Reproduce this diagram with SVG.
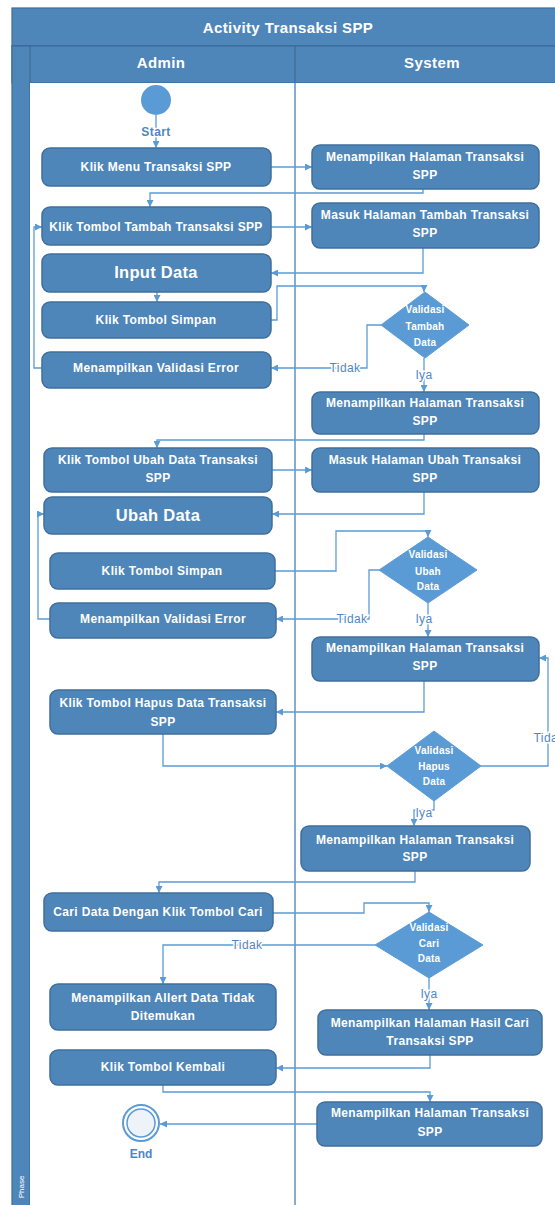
<svg xmlns="http://www.w3.org/2000/svg" width="555" height="1205" viewBox="0 0 555 1205">
<style>
.frame{fill:#4f86b9;stroke:#3d6b98;stroke-width:1.2}
.hd{font-family:"Liberation Sans",Arial,sans-serif;font-weight:bold;fill:#fff;text-anchor:middle;font-size:15px;letter-spacing:0.4px}
.node rect{fill:#4f86b9;stroke:#3f6f9d;stroke-width:1.5}
.node text{font-family:"Liberation Sans",Arial,sans-serif;font-weight:bold;font-size:12px;letter-spacing:0.35px;fill:#fff;text-anchor:middle}
.node text.big{font-size:16.5px;letter-spacing:0.3px}
.dec polygon{fill:#5b9bd5;stroke:#5b9bd5;stroke-width:1}
.dec text{font-family:"Liberation Sans",Arial,sans-serif;font-weight:bold;font-size:10px;letter-spacing:0.2px;fill:#fff;text-anchor:middle}
.conn path{fill:none;stroke:#5b9bd5;stroke-width:1.3}
.cl{font-family:"Liberation Sans",Arial,sans-serif;font-size:12px;letter-spacing:0.4px;fill:#4f86c6;text-anchor:middle;stroke:#fff;stroke-width:3;paint-order:stroke}
</style>
<defs>
<marker id="ah" viewBox="0 0 8 8" refX="8" refY="4" markerWidth="7" markerHeight="7" orient="auto" markerUnits="userSpaceOnUse"><path d="M0,0 L8,4 L0,8 z" fill="#5b9bd5"/></marker>
</defs>
<rect width="555" height="1205" fill="#fff"/>
<g id="pool">
<rect class="frame" x="12" y="8" width="560" height="38"/>
<rect class="frame" x="12" y="46" width="560" height="37"/>
<rect class="frame" x="12" y="46" width="18" height="1170"/>
<rect x="30" y="83" width="530" height="1130" fill="#fff"/>
<line x1="295" y1="46" x2="295" y2="83" stroke="#3d6b98" stroke-width="1.2"/>
<line x1="295" y1="83" x2="295" y2="1205" stroke="#4a7ebb" stroke-width="1.3"/>
<text class="hd" x="288" y="33">Activity Transaksi SPP</text>
<text class="hd" x="161" y="68">Admin</text>
<text class="hd" x="432" y="68">System</text>
<text x="24" y="1187" transform="rotate(-90 24 1187)" font-family="Liberation Sans, Arial, sans-serif" font-size="8" fill="#fff" text-anchor="middle">Phase</text>
</g>
<g id="connectors" class="conn">
<path d="M156,115 V148" marker-end="url(#ah)"/>
<path d="M271,167 H312" marker-end="url(#ah)"/>
<path d="M423,189 V193 H150 V207" marker-end="url(#ah)"/>
<path d="M271,227 H312" marker-end="url(#ah)"/>
<path d="M423,248 V273 H271" marker-end="url(#ah)"/>
<path d="M157,292 V302" marker-end="url(#ah)"/>
<path d="M271,320 H277 V286 H424 V292" marker-end="url(#ah)"/>
<path d="M381,325 H367 V368 H271" marker-end="url(#ah)"/>
<path d="M424,358 V392" marker-end="url(#ah)"/>
<path d="M42,368 H34 V227 H42" marker-end="url(#ah)"/>
<path d="M424,434 V440 H157 V448" marker-end="url(#ah)"/>
<path d="M272,470 H312" marker-end="url(#ah)"/>
<path d="M424,492 V514 H272" marker-end="url(#ah)"/>
<path d="M50,619 H38 V514 H44" marker-end="url(#ah)"/>
<path d="M275,571 H336 V531 H428 V537" marker-end="url(#ah)"/>
<path d="M379,570 H369 V619 H276" marker-end="url(#ah)"/>
<path d="M428,603 V637" marker-end="url(#ah)"/>
<path d="M424,681 V712 H276" marker-end="url(#ah)"/>
<path d="M163,734 V766 H387" marker-end="url(#ah)"/>
<path d="M481,766 H548 V658 H539" marker-end="url(#ah)"/>
<path d="M434,801 V810 H414 V826" marker-end="url(#ah)"/>
<path d="M415,871 V882 H159 V893" marker-end="url(#ah)"/>
<path d="M273,913 H364 V903 H429 V912" marker-end="url(#ah)"/>
<path d="M375,945 H163 V984" marker-end="url(#ah)"/>
<path d="M429,978 V1010" marker-end="url(#ah)"/>
<path d="M430,1055 V1068 H276" marker-end="url(#ah)"/>
<path d="M163,1085 V1092 H430 V1102" marker-end="url(#ah)"/>
<path d="M317,1124 H160" marker-end="url(#ah)"/>
</g>
<g id="conn-labels">
<text class="cl" x="156" y="136" font-weight="bold" font-size="11px">Start</text>
<text class="cl" x="345" y="372">Tidak</text>
<text class="cl" x="424" y="379">Iya</text>
<text class="cl" x="352" y="623">Tidak</text>
<text class="cl" x="424" y="623">Iya</text>
<text class="cl" x="549" y="742">Tidak</text>
<text class="cl" x="424" y="817">Iya</text>
<text class="cl" x="247" y="949">Tidak</text>
<text class="cl" x="429" y="998">Iya</text>
</g>
<g id="start"><circle cx="156" cy="100" r="15" fill="#5b9bd5"/></g>
<g id="end">
<circle cx="141" cy="1123" r="18" fill="#fff" stroke="#5b9bd5" stroke-width="2"/>
<circle cx="141" cy="1123" r="14" fill="#eef3fa" stroke="#5b9bd5" stroke-width="1.5"/>
<text x="141" y="1158" font-family="Liberation Sans, Arial, sans-serif" font-weight="bold" font-size="12" fill="#4f86c6" text-anchor="middle">End</text>
</g>
<g id="n1" class="node"><rect x="42" y="148" width="229" height="38" rx="8"/><text x="156" y="171">Klik Menu Transaksi SPP</text></g>
<g id="n2" class="node"><rect x="312" y="145" width="227" height="44" rx="8"/><text x="425" y="161">Menampilkan Halaman Transaksi</text><text x="425" y="179">SPP</text></g>
<g id="n3" class="node"><rect x="42" y="207" width="229" height="38" rx="8"/><text x="156" y="231">Klik Tombol Tambah Transaksi SPP</text></g>
<g id="n4" class="node"><rect x="312" y="203" width="227" height="45" rx="8"/><text x="425" y="219">Masuk Halaman Tambah Transaksi</text><text x="425" y="237">SPP</text></g>
<g id="n5" class="node"><rect x="42" y="254" width="229" height="38" rx="8"/><text class="big" x="156" y="278">Input Data</text></g>
<g id="n6" class="node"><rect x="42" y="302" width="229" height="36" rx="8"/><text x="156" y="324">Klik Tombol Simpan</text></g>
<g id="d7" class="dec"><polygon points="425,292 469,325 425,358 381,325"/><text x="425" y="313">Validasi</text><text x="425" y="330">Tambah</text><text x="425" y="346">Data</text></g>
<g id="n8" class="node"><rect x="42" y="352" width="229" height="36" rx="8"/><text x="156" y="372">Menampilkan Validasi Error</text></g>
<g id="n9" class="node"><rect x="312" y="392" width="227" height="42" rx="8"/><text x="425" y="407">Menampilkan Halaman Transaksi</text><text x="425" y="425">SPP</text></g>
<g id="n10" class="node"><rect x="44" y="448" width="228" height="44" rx="8"/><text x="158" y="464">Klik Tombol Ubah Data Transaksi</text><text x="158" y="482">SPP</text></g>
<g id="n11" class="node"><rect x="312" y="448" width="227" height="44" rx="8"/><text x="425" y="464">Masuk Halaman Ubah Transaksi</text><text x="425" y="482">SPP</text></g>
<g id="n12" class="node"><rect x="44" y="497" width="228" height="37" rx="8"/><text class="big" x="158" y="521">Ubah Data</text></g>
<g id="n13" class="node"><rect x="50" y="553" width="225" height="36" rx="8"/><text x="162" y="575">Klik Tombol Simpan</text></g>
<g id="d14" class="dec"><polygon points="428,537 477,570 428,603 379,570"/><text x="428" y="558">Validasi</text><text x="428" y="575">Ubah</text><text x="428" y="590">Data</text></g>
<g id="n15" class="node"><rect x="50" y="603" width="226" height="35" rx="8"/><text x="163" y="623">Menampilkan Validasi Error</text></g>
<g id="n16" class="node"><rect x="312" y="637" width="227" height="44" rx="8"/><text x="425" y="652">Menampilkan Halaman Transaksi</text><text x="425" y="670">SPP</text></g>
<g id="n17" class="node"><rect x="50" y="690" width="226" height="44" rx="8"/><text x="163" y="707">Klik Tombol Hapus Data Transaksi</text><text x="163" y="726">SPP</text></g>
<g id="d18" class="dec"><polygon points="434,731 481,766 434,801 387,766"/><text x="434" y="754">Validasi</text><text x="434" y="770">Hapus</text><text x="434" y="785">Data</text></g>
<g id="n19" class="node"><rect x="301" y="826" width="229" height="45" rx="8"/><text x="415" y="844">Menampilkan Halaman Transaksi</text><text x="415" y="861">SPP</text></g>
<g id="n20" class="node"><rect x="44" y="893" width="229" height="38" rx="8"/><text x="158" y="916">Cari Data Dengan Klik Tombol Cari</text></g>
<g id="d21" class="dec"><polygon points="429,912 483,945 429,978 375,945"/><text x="429" y="931">Validasi</text><text x="429" y="947">Cari</text><text x="429" y="962">Data</text></g>
<g id="n22" class="node"><rect x="50" y="984" width="226" height="46" rx="8"/><text x="163" y="1002">Menampilkan Allert Data Tidak</text><text x="163" y="1020">Ditemukan</text></g>
<g id="n23" class="node"><rect x="318" y="1010" width="224" height="45" rx="8"/><text x="430" y="1027">Menampilkan Halaman Hasil Cari</text><text x="430" y="1045">Transaksi SPP</text></g>
<g id="n24" class="node"><rect x="50" y="1050" width="226" height="35" rx="8"/><text x="163" y="1071">Klik Tombol Kembali</text></g>
<g id="n25" class="node"><rect x="317" y="1102" width="225" height="44" rx="8"/><text x="430" y="1117">Menampilkan Halaman Transaksi</text><text x="430" y="1136">SPP</text></g>
</svg>
